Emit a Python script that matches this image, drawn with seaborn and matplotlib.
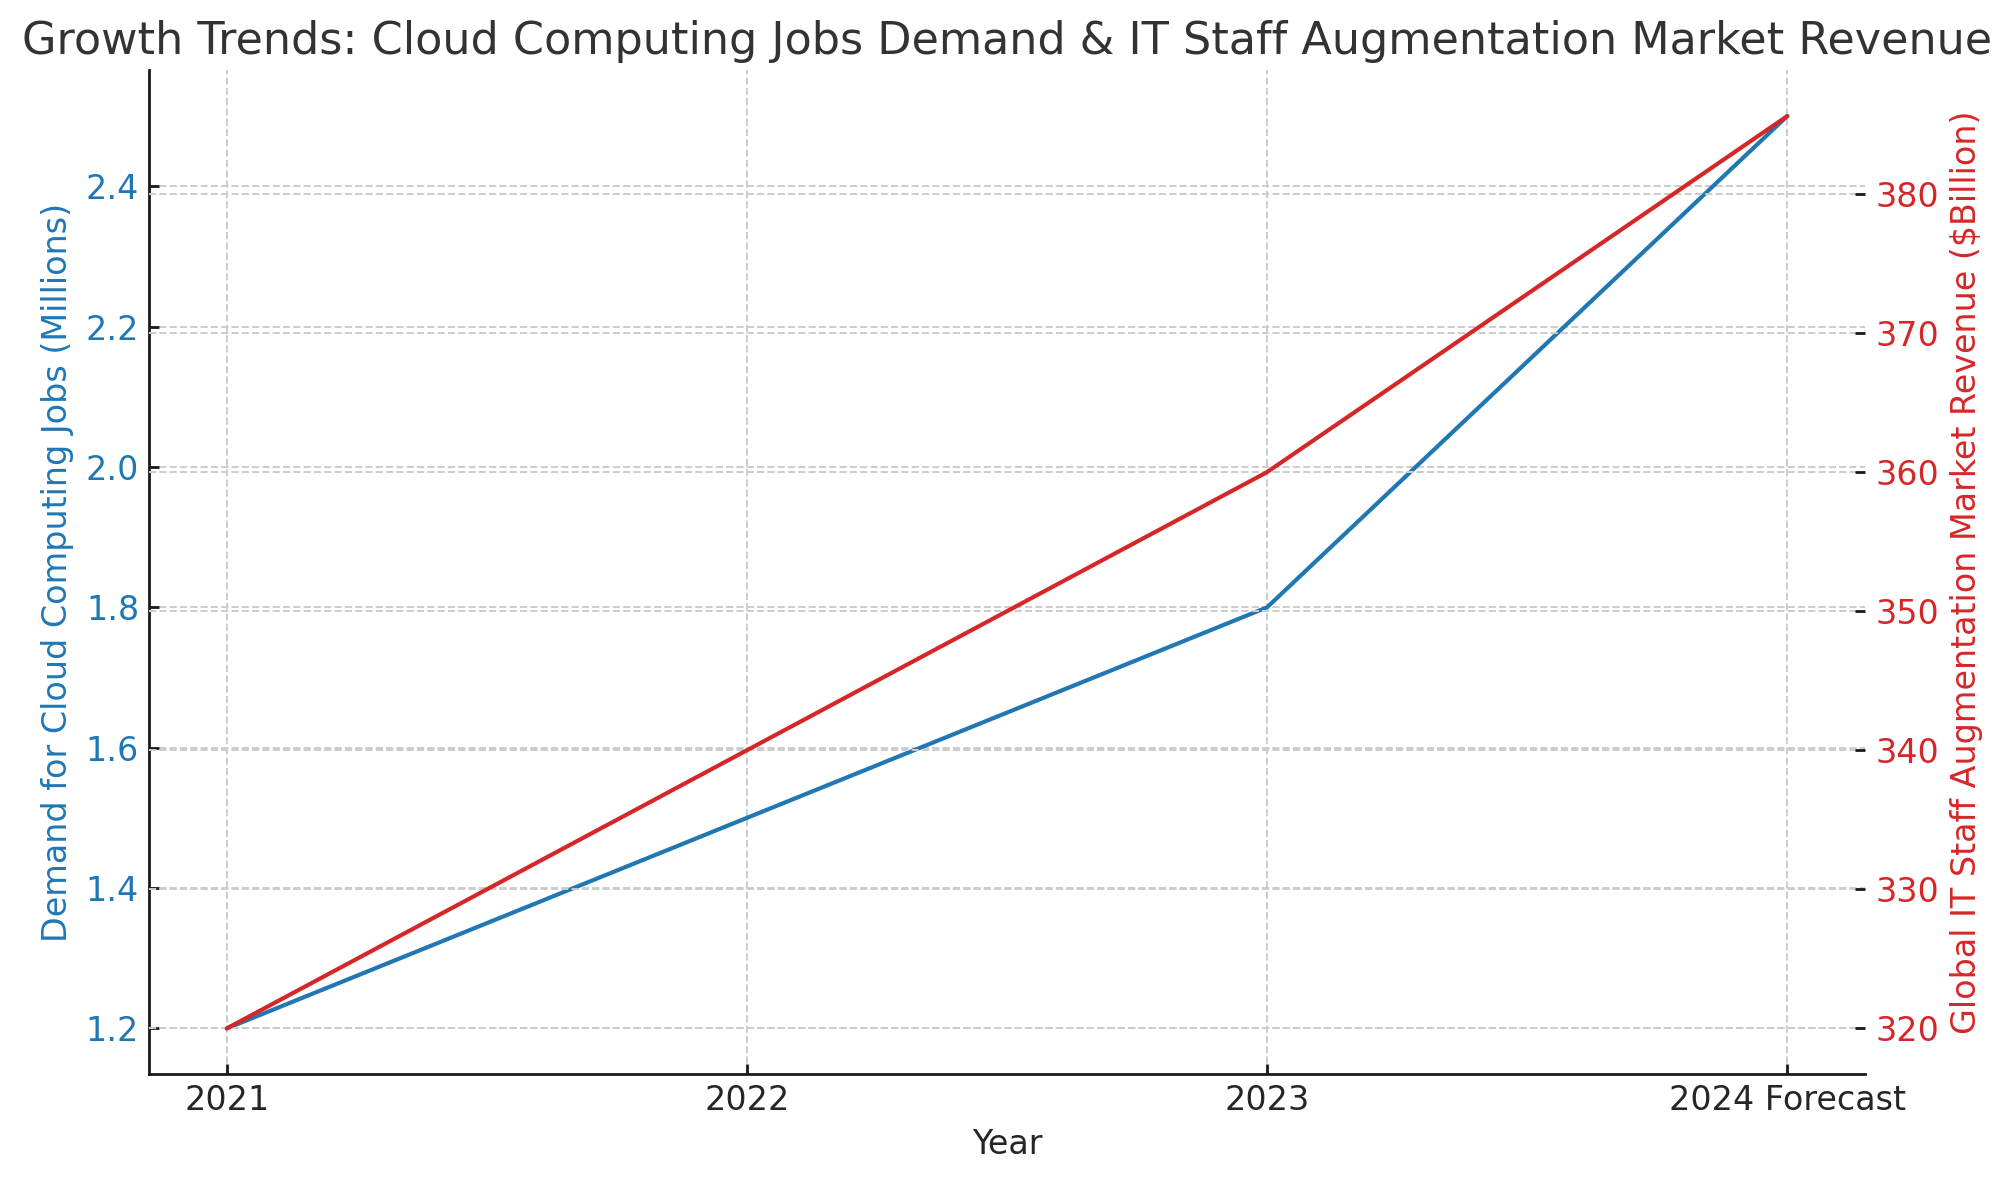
import matplotlib
matplotlib.use("Agg")
import matplotlib.pyplot as plt
import seaborn as sns
import pandas as pd

years = ["2021", "2022", "2023", "2024 Forecast"]
cloud_jobs = [1.2, 1.5, 1.8, 2.5]
staff_revenue = [320, 340, 360, 385.6]

title = "Growth Trends: Cloud Computing Jobs Demand & IT Staff Augmentation Market Revenue"
xlabel = "Year"
ylabel_left = "Demand for Cloud Computing Jobs (Millions)"
ylabel_right = "Global IT Staff Augmentation Market Revenue ($Billion)"

BLUE = "#1f77b4"
RED = "#d62728"
GRID = "#cccccc"
DARK = "#262626"

sns.set_theme(style="white")
plt.rcParams['font.family'] = ['DejaVu Sans']

df = pd.DataFrame({"Year": years, "Jobs": cloud_jobs, "Revenue": staff_revenue})

fig = plt.figure(figsize=(10.05, 5.9), dpi=200)
ax1 = fig.add_axes([0.074, 0.0898, 0.854, 0.8505])
ax2 = ax1.twinx()

sns.lineplot(data=df, x="Year", y="Jobs", ax=ax1, color=BLUE, linewidth=1.5, sort=False)
sns.lineplot(data=df, x="Year", y="Revenue", ax=ax2, color=RED, linewidth=1.5, sort=False)

ax1.set_title(title, fontsize=16, color="#333333", pad=6)
ax1.set_xlabel(xlabel, fontsize=12, color=DARK)
ax1.set_ylabel(ylabel_left, fontsize=12, color=BLUE)
ax2.set_ylabel(ylabel_right, fontsize=12, color=RED)

ax1.grid(True, linestyle="--", color=GRID, linewidth=0.7)
ax2.grid(True, axis="y", linestyle="--", color=GRID, linewidth=0.7)
ax1.set_axisbelow(True)

for ax in (ax1, ax2):
    for s in ("top", "right"):
        ax.spines[s].set_visible(False)
ax2.spines["left"].set_visible(False)
ax2.spines["bottom"].set_visible(False)
for s in ("left", "bottom"):
    ax1.spines[s].set_color("#1a1a1a")
    ax1.spines[s].set_linewidth(1.0)

ax1.tick_params(axis="y", direction="in", length=3.5, width=1.0, color="#1a1a1a",
                labelsize=12, labelcolor=BLUE, left=True)
ax1.tick_params(axis="x", direction="in", length=3.5, width=1.0, color="#1a1a1a",
                labelsize=12, labelcolor=DARK, bottom=True)
ax2.tick_params(axis="y", direction="in", length=3.5, width=1.0, color="#1a1a1a",
                labelsize=12, labelcolor=RED, right=True)

fig.savefig("out.png", dpi=200)
